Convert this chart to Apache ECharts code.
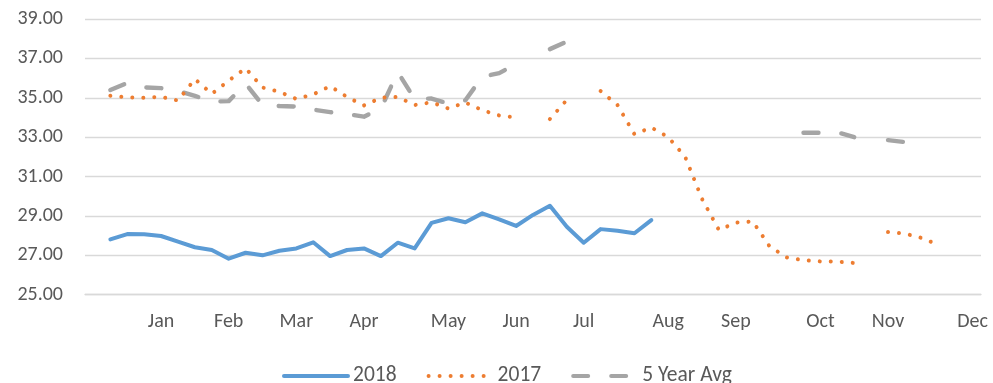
<!DOCTYPE html>
<html>
<head>
<meta charset="utf-8">
<script src="https://cdn.jsdelivr.net/npm/echarts@6/dist/echarts.min.js"></script>
<style>
  html, body { margin: 0; padding: 0; background: #fff; }
  #chart { width: 993px; height: 383px; }
</style>
</head>
<body>
<div id="chart"></div>
<script>
// Weekly slots across the year (53 positions), month names shown on selected weeks
const weeks = Array.from({ length: 53 }, (_, i) => 'W' + i);
const monthTicks = {
  4: 'Jan', 8: 'Feb', 12: 'Mar', 16: 'Apr', 21: 'May', 25: 'Jun',
  29: 'Jul', 34: 'Aug', 38: 'Sep', 43: 'Oct', 47: 'Nov', 52: 'Dec'
};

const series2018 = [
  null, 27.81, 28.08, 28.07, 27.98, 27.69, 27.41, 27.27, 26.83, 27.13,
  27.00, 27.23, 27.35, 27.66, 26.96, 27.27, 27.35, 26.96, 27.64, 27.35,
  28.65, 28.88, 28.68, 29.13, 28.83, 28.49, 29.05, 29.52, 28.45, 27.64,
  28.33, 28.25, 28.12, 28.79
];

const series2017 = [
  null, 35.10, 35.02, 35.00, 35.05, 34.86, 35.95, 35.20, 35.87, 36.50,
  35.52, 35.30, 34.94, 35.17, 35.59, 35.04, 34.61, 35.00, 35.04, 34.63,
  34.77, 34.45, 34.76, 34.37, 34.10, 34.00, null, 33.92, 34.89, null,
  35.34, 34.63, 33.15, 33.49, 33.00, 32.00, 29.86, 28.28, 28.66, 28.72,
  27.45, 26.89, 26.75, 26.69, 26.68, 26.61, null, 28.18, 28.10, 27.88,
  27.52, null, null
];

const fiveYearAvg = [
  null, 35.39, 35.75, 35.53, 35.49, 35.34, 35.10, 34.80, 34.83, 35.72,
  34.64, 34.58, 34.55, 34.40, 34.27, 34.17, 34.04, 34.45, 36.30, 34.94,
  34.96, 34.71, 34.87, 36.07, 36.25, 36.71, null, 37.47, 37.85, null,
  null, null, null, null, null, null, null, null, null, null,
  null, null, 33.22, 33.22, 33.25, 33.00, null, 32.85, 32.75, null,
  null, null, null
];

const yTicks = { min: 25, max: 39, step: 2 };

const textColor = '#595959';
const gridColor = '#D9D9D9';
const fontFamily = 'Carlito, Lato, "Open Sans", sans-serif';

const chart = echarts.init(document.getElementById('chart'), null, { renderer: 'canvas' });

chart.setOption({
  animation: false,
  backgroundColor: '#ffffff',
  grid: { left: 85, right: 12, top: 19, bottom: 88.3, containLabel: false },
  legend: {
    top: 360,
    left: 277,
    itemWidth: 64,
    itemHeight: 8,
    itemGap: 30,
    itemStyle: { opacity: 0 },
    lineStyle: { width: 4 },
    textStyle: { color: textColor, fontSize: 21.5, fontFamily: fontFamily },
    data: ['2018', '2017', '5 Year Avg']
  },
  xAxis: {
    type: 'category',
    data: weeks,
    boundaryGap: true,
    axisTick: { show: false },
    axisLine: { show: true, lineStyle: { color: gridColor, width: 1.3 } },
    axisLabel: {
      interval: 0,
      margin: 17,
      color: textColor,
      fontSize: 20,
      fontFamily: fontFamily,
      formatter: (v, i) => monthTicks[i] || ''
    },
    splitLine: { show: false }
  },
  yAxis: {
    type: 'value',
    min: yTicks.min,
    max: yTicks.max,
    interval: yTicks.step,
    axisLine: { show: false },
    axisTick: { show: false },
    axisLabel: {
      margin: 22,
      color: textColor,
      fontSize: 20,
      fontFamily: fontFamily,
      formatter: v => v.toFixed(2)
    },
    splitLine: { lineStyle: { color: gridColor, width: 1.3 } }
  },
  series: [
    {
      name: '2018',
      type: 'line',
      data: series2018,
      symbol: 'none',
      connectNulls: false,
      itemStyle: { color: '#5B9BD5' },
      lineStyle: { color: '#5B9BD5', width: 4, cap: 'round', join: 'round' },
      z: 3
    },
    {
      name: '2017',
      type: 'line',
      data: series2017,
      symbol: 'none',
      connectNulls: false,
      itemStyle: { color: '#ED7D31' },
      lineStyle: { color: '#ED7D31', width: 4, type: [0.01, 11], cap: 'round', join: 'round' },
      z: 2
    },
    {
      name: '5 Year Avg',
      type: 'line',
      data: fiveYearAvg,
      symbol: 'none',
      connectNulls: false,
      itemStyle: { color: '#A5A5A5' },
      lineStyle: { color: '#A5A5A5', width: 4.4, type: [15, 23], cap: 'round', join: 'round' },
      z: 1
    }
  ]
});
</script>
</body>
</html>
